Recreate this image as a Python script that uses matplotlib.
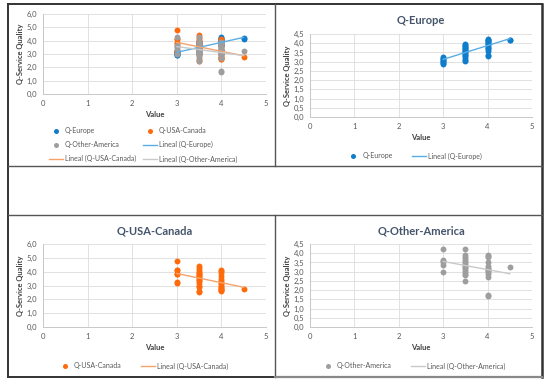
import numpy as np
import matplotlib
matplotlib.use("Agg")
import matplotlib.pyplot as plt
from matplotlib.lines import Line2D
from matplotlib.ticker import FuncFormatter

plt.rcParams['font.family'] = ['Lato', 'DejaVu Sans']

# Q-Service Quality readings grouped by "Value"
europe_q = {
    3.0: [2.9, 2.95, 3.0, 3.05, 3.1, 3.15, 3.2, 3.25],
    3.5: [3.05, 3.1, 3.2, 3.3, 3.35, 3.4, 3.5, 3.55, 3.6, 3.65, 3.7, 3.75, 3.8, 3.85, 3.9, 3.95],
    4.0: [3.3, 3.35, 3.6, 3.7, 3.75, 3.8, 3.9, 3.95, 4.0, 4.05, 4.1, 4.15, 4.2, 4.25],
    4.5: [4.15, 4.2],
}
usa_q = {
    3.0: [4.8, 4.15, 4.1, 3.85, 3.8, 3.25, 3.15],
    3.5: [4.4, 4.3, 4.1, 4.0, 3.9, 3.8, 3.75, 3.7, 3.6, 3.5, 3.4, 3.3, 3.2, 3.0, 2.9, 2.6, 2.5],
    4.0: [4.15, 4.05, 3.9, 3.7, 3.5, 3.3, 3.2, 3.1, 3.0, 2.9, 2.8, 2.75, 2.7, 2.65, 2.6],
    4.5: [2.75],
}
other_q = {
    3.0: [4.25, 3.65, 3.6, 3.55, 3.35, 3.0],
    3.5: [4.25, 3.9, 3.8, 3.7, 3.6, 3.5, 3.4, 3.3, 3.25, 3.2, 3.1, 3.0, 2.9, 2.8, 2.5],
    4.0: [3.9, 3.85, 3.8, 3.5, 3.3, 3.2, 3.15, 3.1, 3.05, 3.0, 2.9, 2.7, 1.75, 1.68],
    4.5: [3.25],
}

names = ["Q-Europe", "Q-USA-Canada", "Q-Other-America"]
dot_colors = ["#0F7DCB", "#FF6A0A", "#9E9E9E"]
line_colors = ["#5AAEE6", "#F5A36B", "#C9C9C9"]

TXT = "#595959"
TITLE = "#44546A"
GRID = "#DCDCDC"


def flatten(groups):
    xs, ys = [], []
    for v, qs in groups.items():
        xs += [v] * len(qs)
        ys += qs
    return np.array(xs), np.array(ys)


series = [flatten(europe_q), flatten(usa_q), flatten(other_q)]

fig = plt.figure(figsize=(5.5, 3.85), dpi=100)


def px_box(x0, y0, x1, y1):
    return [x0 / 550, (385 - y1) / 385, (x1 - x0) / 550, (y1 - y0) / 385]


# panel frames
def fline(xs, ys, color="#333333", lw=1.4):
    fig.add_artist(Line2D([x / 550 for x in xs], [(385 - y) / 385 for y in ys],
                          color=color, lw=lw, transform=fig.transFigure))


fline([8, 542], [4, 4])
fline([8, 8], [4, 377])
fline([542, 542], [4, 377], lw=1.8)
fline([8, 542], [166, 166], color="#555555", lw=1.0)
fline([8, 542], [215, 215], color="#555555", lw=1.0)
fline([275, 275], [4, 166], color="#555555", lw=1.0)
fline([275, 275], [215, 377], color="#555555", lw=1.0)
fline([8, 275], [377, 377], lw=1.4)
fline([275, 542], [377, 377], color="#888888", lw=1.6)

comma = FuncFormatter(lambda v, p: f"{v:.1f}".replace(".", ","))


def setup(ax, ymax, ystep):
    ax.set_xlim(0, 5)
    ax.set_ylim(0, ymax)
    ax.set_xticks(range(6))
    ax.set_yticks(np.arange(0, ymax + 0.01, ystep))
    ax.yaxis.set_major_formatter(comma)
    ax.grid(True, color=GRID, lw=0.6)
    ax.set_axisbelow(True)
    for s in ["top", "right"]:
        ax.spines[s].set_visible(False)
    for s in ["left", "bottom"]:
        ax.spines[s].set_color("#C8C8C8")
        ax.spines[s].set_linewidth(0.7)
    ax.tick_params(length=0, labelsize=5.5, colors=TXT, pad=4)
    ax.set_xlabel("Value", fontsize=5.5, fontweight="bold", color="#404040", labelpad=3)
    ax.set_ylabel("Q-Service Quality", fontsize=5.5, fontweight="bold", color="#404040", labelpad=2)


def draw(ax, i, z=3):
    x, y = series[i]
    ax.scatter(x, y, s=18, color=dot_colors[i], zorder=z, linewidths=0)
    m, b = np.polyfit(x, y, 1)
    xx = np.array([x.min(), x.max()])
    ax.plot(xx, m * xx + b, color=line_colors[i], lw=1.0, zorder=z + 3)
    dot = Line2D([], [], ls="", marker="o", ms=3.6, color=dot_colors[i], mec="none")
    ln = Line2D([], [], color=line_colors[i], lw=1.0)
    return dot, ln


leg_kw = dict(frameon=False, fontsize=5, labelcolor=TXT, handlelength=2.0,
              handletextpad=0.3, borderaxespad=0)

# combined panel
ax1 = fig.add_axes(px_box(43, 14, 266, 94))
setup(ax1, 6, 1)
h = [draw(ax1, i, z=3 + i) for i in range(3)]
handles = [h[0][0], h[2][0], h[1][1], h[1][0], h[0][1], h[2][1]]
labels = [names[0], names[2], "Lineal (" + names[1] + ")",
          names[1], "Lineal (" + names[0] + ")", "Lineal (" + names[2] + ")"]
fig.legend(handles, labels, ncol=2, loc="center", bbox_to_anchor=(143 / 550, (385 - 145) / 385),
           columnspacing=1.0, labelspacing=1.0, **leg_kw)

# single-series panels
boxes = [px_box(310, 34, 532, 117), px_box(43, 244, 266, 327), px_box(310, 244, 532, 327)]
ylims = [(4.5, 0.5), (6, 1), (4.5, 0.5)]
leg_y = [156, 366, 366]
leg_x = [414, 143, 413]
for i in range(3):
    ax = fig.add_axes(boxes[i])
    setup(ax, *ylims[i])
    dot, ln = draw(ax, i)
    ax.set_title(names[i], fontsize=8, fontweight="bold", color=TITLE, pad=7)
    fig.legend([dot, ln], [names[i], "Lineal (" + names[i] + ")"], ncol=2, loc="center",
               bbox_to_anchor=(leg_x[i] / 550, (385 - leg_y[i]) / 385), columnspacing=2.8, **leg_kw)

fig.savefig("out.png", dpi=100, facecolor="white")
